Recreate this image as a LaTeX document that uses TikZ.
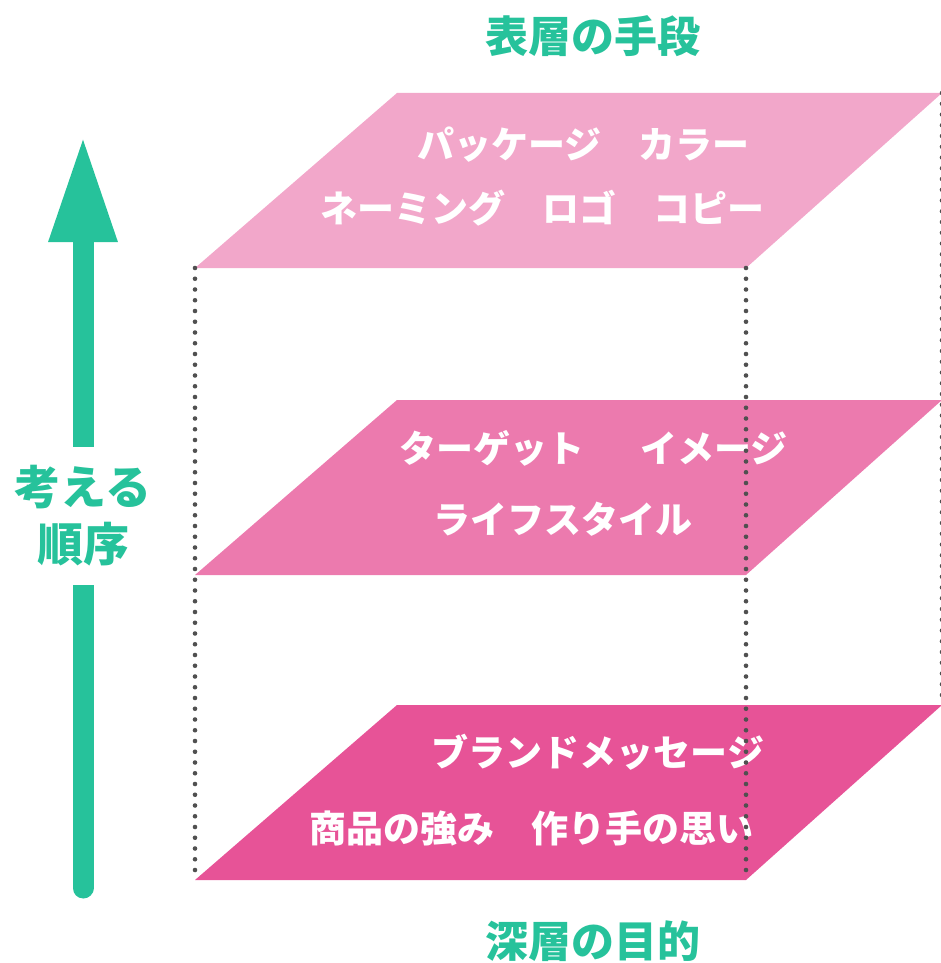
\documentclass[tikz,border=0pt]{standalone}
\usepackage{fontspec}
\usetikzlibrary{arrows.meta}
\newfontfamily\jpfont{Noto Sans CJK JP}
\definecolor{mint}{HTML}{26C29B}
\definecolor{pinklight}{HTML}{F2A7CA}
\definecolor{pinkmid}{HTML}{EC7AAE}
\definecolor{pinkdeep}{HTML}{E75397}
\definecolor{dotgray}{HTML}{505050}
\begin{document}
\begin{tikzpicture}[
x=1pt, y=-1pt,
layertext/.style={text=white, inner sep=0pt, font=\jpfont\bfseries\fontsize{37}{37}\selectfont},
heading/.style={text=mint, inner sep=0pt, font=\jpfont\bfseries\fontsize{43}{43}\selectfont},
guide/.style={draw=dotgray, line width=4.6pt, line cap=round, dash pattern=on 0pt off 10.75pt}
]
\useasboundingbox (0,0) rectangle (941,963);

% corners of the three layers
\coordinate (topA) at (397,93);  \coordinate (topB) at (942,93);
\coordinate (topC) at (746,268); \coordinate (topD) at (195,268);
\coordinate (midA) at (397,400); \coordinate (midB) at (942,400);
\coordinate (midC) at (746,575); \coordinate (midD) at (195,575);
\coordinate (botA) at (397,705); \coordinate (botB) at (942,705);
\coordinate (botC) at (746,880); \coordinate (botD) at (195,880);

\fill[pinklight] (topA) -- (topB) -- (topC) -- (topD) -- cycle;
\fill[pinkmid] (midA) -- (midB) -- (midC) -- (midD) -- cycle;
\fill[pinkdeep] (botA) -- (botB) -- (botC) -- (botD) -- cycle;

\node[heading] (surface) at (593,36) {表層の手段};
\node[heading] (depth) at (593,941) {深層の目的};

\node[layertext] (package) at (583.5,145) {パッケージ　カラー};
\node[layertext] (naming) at (542,208) {ネーミング　ロゴ　コピー};
\node[layertext] (target) at (593.5,448) {ターゲット\hspace{1.5em}イメージ};
\node[layertext] (lifestyle) at (562.5,519) {ライフスタイル};
\node[layertext] (message) at (598,752) {ブランドメッセージ};
\node[layertext] (strength) at (531.5,828) {商品の強み　作り手の思い};

\draw[guide] (topD) -- (botD);
\draw[guide] (topC) -- (botC);
\draw[guide] (topB) -- (botB);

% order of thinking
\coordinate (arrowfoot) at (83,888);
\coordinate (arrowtip) at (83,135);
\draw[mint, line width=21pt, line cap=round, -{Triangle[width=63pt,length=107pt]}] (arrowfoot) -- (arrowtip);
\node[fill=white, text=mint, align=center, minimum height=138pt, inner xsep=2pt,
  font=\jpfont\bfseries\fontsize{46}{57}\selectfont] (order) at (83,516) {考える\\順序};
\end{tikzpicture}
\end{document}
